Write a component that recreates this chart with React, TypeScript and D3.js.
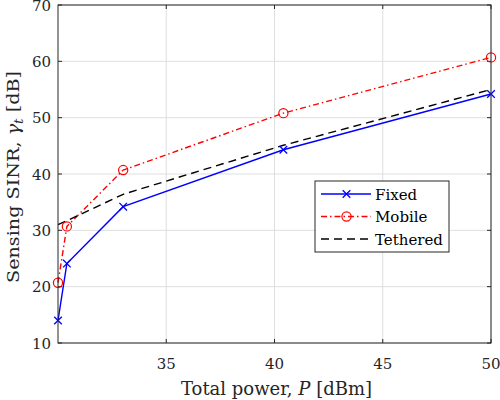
import { useRef, useEffect } from 'react';
import * as d3 from 'd3';

// total power in dBm (same for every series)
const powerDbm = [30, 30.41, 33.01, 40.41, 50];
const fixedSinr = [14.0, 24.1, 34.2, 44.3, 54.2];
const mobileSinr = [20.7, 30.7, 40.7, 50.8, 60.7];
const tetheredSinr = [31.0, 31.7, 36.4, 45.1, 55.0];

const xTicks = [35, 40, 45, 50];
const yTicks = [10, 20, 30, 40, 50, 60, 70];

const series = [
    { name: 'Fixed', values: fixedSinr, color: '#0000ff', dash: '', marker: 'x' },
    { name: 'Mobile', values: mobileSinr, color: '#ff0000', dash: '6,3,1.5,3', marker: 'o' },
    { name: 'Tethered', values: tetheredSinr, color: '#000000', dash: '8,5', marker: '' },
];

const W = 500;
const H = 400;
const FONT = 'DejaVu Serif';

export default function App() {
    const svgRef = useRef<SVGSVGElement>(null);

    useEffect(() => {
        if (!svgRef.current) return;
        const svg = d3.select(svgRef.current);
        svg.selectAll('*').remove();

        const left = 58, right = 491, top = 5, bottom = 343;
        const x = d3.scaleLinear().domain([30, 50]).range([left, right]);
        const y = d3.scaleLinear().domain([10, 70]).range([bottom, top]);

        svg.append('rect').attr('width', W).attr('height', H).attr('fill', '#fff');

        // grid
        const grid = svg.append('g').attr('stroke', '#dfdfdf').attr('stroke-width', 1);
        xTicks.forEach(t => {
            grid.append('line').attr('x1', x(t)).attr('x2', x(t)).attr('y1', top).attr('y2', bottom);
        });
        yTicks.forEach(t => {
            grid.append('line').attr('x1', left).attr('x2', right).attr('y1', y(t)).attr('y2', y(t));
        });

        // tick marks (inside, all four sides)
        const ticks = svg.append('g').attr('stroke', '#262626').attr('stroke-width', 1);
        xTicks.forEach(t => {
            ticks.append('line').attr('x1', x(t)).attr('x2', x(t)).attr('y1', bottom).attr('y2', bottom - 4);
            ticks.append('line').attr('x1', x(t)).attr('x2', x(t)).attr('y1', top).attr('y2', top + 4);
        });
        yTicks.forEach(t => {
            ticks.append('line').attr('x1', left).attr('x2', left + 4).attr('y1', y(t)).attr('y2', y(t));
            ticks.append('line').attr('x1', right).attr('x2', right - 4).attr('y1', y(t)).attr('y2', y(t));
        });

        // tick labels
        svg.append('g').selectAll('text').data(xTicks).enter().append('text')
            .attr('x', d => x(d)).attr('y', 369)
            .attr('text-anchor', 'middle')
            .attr('fill', '#262626')
            .attr('font-family', FONT).attr('font-size', 15)
            .text(d => d);
        svg.append('g').selectAll('text').data(yTicks).enter().append('text')
            .attr('x', 51).attr('y', d => y(d) + 5.5)
            .attr('text-anchor', 'end')
            .attr('fill', '#262626')
            .attr('font-family', FONT).attr('font-size', 15)
            .text(d => d);

        // series lines
        const line = d3.line<number>()
            .x((_, i) => x(powerDbm[i]))
            .y(d => y(d));

        series.forEach(s => {
            svg.append('path')
                .datum(s.values)
                .attr('d', line)
                .attr('fill', 'none')
                .attr('stroke', s.color)
                .attr('stroke-width', 1.4)
                .attr('stroke-dasharray', s.dash || null);
        });

        const drawMarker = (g: any, kind: string, cx: number, cy: number, color: string) => {
            if (kind === 'x') {
                const r = 3.8;
                g.append('path')
                    .attr('d', `M${cx - r},${cy - r}L${cx + r},${cy + r}M${cx - r},${cy + r}L${cx + r},${cy - r}`)
                    .attr('stroke', color).attr('stroke-width', 1.3).attr('fill', 'none');
            } else if (kind === 'o') {
                g.append('circle').attr('cx', cx).attr('cy', cy).attr('r', 4.6)
                    .attr('stroke', color).attr('stroke-width', 1.2).attr('fill', 'none');
            }
        };

        series.forEach(s => {
            const g = svg.append('g');
            s.values.forEach((v, i) => drawMarker(g, s.marker, x(powerDbm[i]), y(v), s.color));
        });

        // axes box
        svg.append('rect')
            .attr('x', left).attr('y', top)
            .attr('width', right - left).attr('height', bottom - top)
            .attr('fill', 'none').attr('stroke', '#262626').attr('stroke-width', 1);

        // axis labels
        const xl = svg.append('text')
            .attr('x', (left + right) / 2 + 2).attr('y', 395)
            .attr('text-anchor', 'middle')
            .attr('fill', '#262626')
            .attr('font-family', FONT).attr('font-size', 18);
        xl.append('tspan').text('Total power, ');
        xl.append('tspan').attr('font-style', 'italic').text('P');
        xl.append('tspan').text(' [dBm]');

        const yl = svg.append('text')
            .attr('transform', `translate(19, 177) rotate(-90)`)
            .attr('text-anchor', 'middle')
            .attr('fill', '#262626')
            .attr('font-family', FONT).attr('font-size', 17)
            .attr('textLength', 212)
            .attr('lengthAdjust', 'spacingAndGlyphs');
        yl.append('tspan').text('Sensing SINR, ');
        yl.append('tspan').attr('font-style', 'italic').text('γ');
        yl.append('tspan').attr('font-style', 'italic').attr('font-size', 12).attr('dy', 4).text('t');
        yl.append('tspan').attr('dy', -4).text(' [dB]');

        // legend
        const lg = svg.append('g');
        lg.append('rect')
            .attr('x', 315).attr('y', 181).attr('width', 134).attr('height', 71)
            .attr('fill', '#fff').attr('stroke', '#262626').attr('stroke-width', 1);
        series.forEach((s, i) => {
            const cy = 194 + i * 22.5;
            lg.append('line')
                .attr('x1', 321).attr('x2', 371).attr('y1', cy).attr('y2', cy)
                .attr('stroke', s.color).attr('stroke-width', 1.4)
                .attr('stroke-dasharray', s.dash || null);
            drawMarker(lg, s.marker, 346.5, cy, s.color);
            lg.append('text')
                .attr('x', 375).attr('y', cy + 5.5)
                .attr('fill', '#000')
                .attr('font-family', FONT).attr('font-size', 15)
                .text(s.name);
        });
    }, []);

    return (
        <svg ref={svgRef} width={W} height={H} style={{ display: 'block', position: 'absolute', left: 0, top: 0 }}></svg>
    );
}
